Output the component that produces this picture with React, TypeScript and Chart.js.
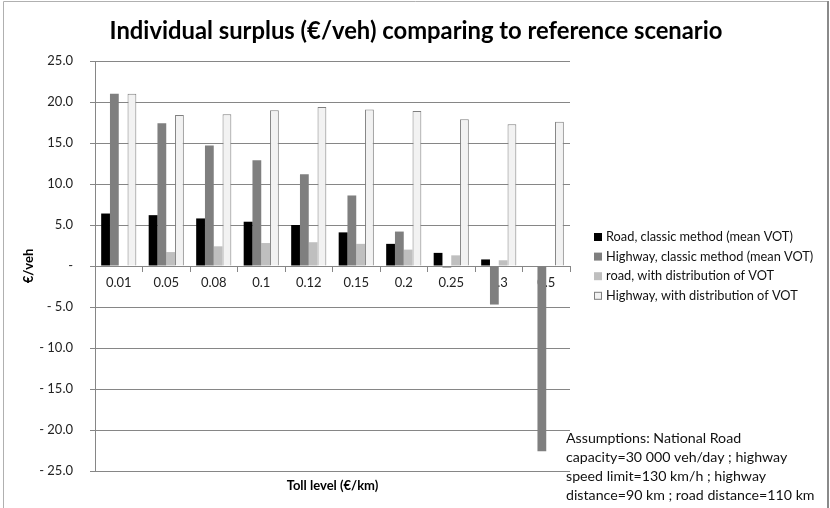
import React, { useEffect, useRef } from "react";
import { Chart, registerables } from "chart.js";

Chart.register(...registerables);

const categories = ["0.01", "0.05", "0.08", "0.1", "0.12", "0.15", "0.2", "0.25", "0.3", "0.5"];
const roadClassic = [6.4, 6.2, 5.8, 5.4, 5.0, 4.1, 2.7, 1.6, 0.8, 0];
const highwayClassic = [21.0, 17.4, 14.7, 12.9, 11.2, 8.6, 4.2, -0.2, -4.7, -22.6];
const roadDistribution = [0, 1.7, 2.4, 2.8, 2.9, 2.7, 2.0, 1.3, 0.7, 0];
const highwayDistribution = [21.0, 18.4, 18.5, 19.0, 19.4, 19.1, 18.9, 17.9, 17.3, 17.6];
const seriesNames = [
  "Road, classic method (mean VOT)",
  "Highway, classic method (mean VOT)",
  "road, with distribution of VOT",
  "Highway, with distribution of VOT",
];
const yMin = -25;
const yMax = 25;
const yStep = 5;
const titleText = "Individual surplus (€/veh) comparing to reference scenario";
const xTitle = "Toll level (€/km)";
const yTitle = "€/veh";
const assumptionLines = [
  "Assumptions: National Road",
  "capacity=30 000 veh/day ; highway",
  "speed limit=130 km/h ; highway",
  "distance=90 km ; road distance=110 km",
];

const FONT = "Lato, 'Open Sans', sans-serif";
const GRID = "#868686";

const overlayPlugin = {
  id: "overlay",
  afterDraw(chart: any) {
    const ctx = chart.ctx as CanvasRenderingContext2D;
    const ca = chart.chartArea;
    ctx.save();
    // frame
    ctx.strokeStyle = "#b0b0b0";
    ctx.lineWidth = 1;
    ctx.beginPath();
    ctx.moveTo(3.5, 508);
    ctx.lineTo(3.5, 1.5);
    ctx.lineTo(827, 1.5);
    ctx.stroke();
    ctx.strokeStyle = "#8a8a8a";
    ctx.lineWidth = 2;
    ctx.beginPath();
    ctx.moveTo(828, 1);
    ctx.lineTo(828, 508);
    ctx.stroke();

    ctx.fillStyle = "#000";
    // title
    ctx.font = `bold 23.8px ${FONT}`;
    ctx.textAlign = "center";
    ctx.textBaseline = "middle";
    ctx.fillText(titleText, 416, 31);

    // y title
    ctx.save();
    ctx.font = `bold 13px ${FONT}`;
    ctx.translate(29, (ca.top + ca.bottom) / 2);
    ctx.rotate(-Math.PI / 2);
    ctx.textAlign = "center";
    ctx.textBaseline = "middle";
    ctx.fillText(yTitle, 0, 0);
    ctx.restore();

    // x title
    ctx.font = `bold 13px ${FONT}`;
    ctx.textAlign = "center";
    ctx.textBaseline = "middle";
    ctx.fillText(xTitle, (ca.left + ca.right) / 2, 486);

    // legend
    ctx.font = `12.8px ${FONT}`;
    ctx.textAlign = "left";
    ctx.textBaseline = "middle";
    chart.data.datasets.forEach((ds: any, i: number) => {
      const y = 237 + i * 19.6;
      ctx.fillStyle = ds.backgroundColor;
      ctx.fillRect(594, y - 4, 8, 8);
      if (ds.borderWidth) {
        ctx.strokeStyle = ds.borderColor;
        ctx.lineWidth = 1;
        ctx.strokeRect(594.5, y - 3.5, 7, 7);
      }
      ctx.fillStyle = "#111";
      ctx.fillText(ds.label, 606, y);
    });

    // assumptions
    ctx.font = `14.2px ${FONT}`;
    ctx.fillStyle = "#111";
    assumptionLines.forEach((line, i) => {
      ctx.fillText(line, 566, 438 + i * 19);
    });
    ctx.restore();
  },
};

export default function App() {
  const ref = useRef<HTMLCanvasElement | null>(null);
  useEffect(() => {
    if (!ref.current) return;
    const chart = new Chart(ref.current, {
      type: "bar",
      data: {
        labels: categories,
        datasets: [
          { label: seriesNames[0], data: roadClassic, backgroundColor: "#000000", borderWidth: 0 },
          { label: seriesNames[1], data: highwayClassic, backgroundColor: "#7f7f7f", borderWidth: 0 },
          { label: seriesNames[2], data: roadDistribution, backgroundColor: "#bfbfbf", borderWidth: 0 },
          {
            label: seriesNames[3],
            data: highwayDistribution,
            backgroundColor: "#f2f2f2",
            borderColor: "#7f7f7f",
            borderWidth: 1,
          },
        ],
      },
      options: {
        animation: false,
        responsive: false,
        maintainAspectRatio: false,
        layout: { padding: { left: 0, right: 260, top: 61, bottom: 37 } },
        datasets: { bar: { categoryPercentage: 0.74, barPercentage: 1.0 } },
        plugins: {
          legend: { display: false },
          tooltip: { enabled: false },
          title: { display: false },
        },
        scales: {
          x: {
            type: "category",
            position: { y: 0 } as any,
            grid: {
              display: true,
              drawOnChartArea: false,
              drawTicks: true,
              tickLength: 5,
              color: GRID,
              offset: true,
            },
            border: { display: true, color: GRID },
            ticks: { color: "#222", font: { family: FONT, size: 13 }, padding: 4, maxRotation: 0, autoSkip: false },
          },
          y: {
            min: yMin,
            max: yMax,
            afterFit: (scale: any) => {
              scale.width = 95;
            },
            ticks: {
              stepSize: yStep,
              color: "#222",
              font: { family: FONT, size: 13 },
              padding: 17,
              callback: (v: any) => {
                const n = Number(v);
                if (n === 0) return "-";
                if (n < 0) return "- " + Math.abs(n).toFixed(1);
                return n.toFixed(1);
              },
            },
            grid: { color: GRID, tickLength: 5, drawTicks: true },
            border: { display: true, color: GRID },
          },
        },
      },
      plugins: [overlayPlugin],
    });
    return () => chart.destroy();
  }, []);
  return (
    <div style={{ position: "fixed", left: 0, top: 0, width: 830, height: 508, background: "#fff" }}>
      <canvas ref={ref} width={830} height={508} style={{ width: 830, height: 508 }} />
    </div>
  );
}
